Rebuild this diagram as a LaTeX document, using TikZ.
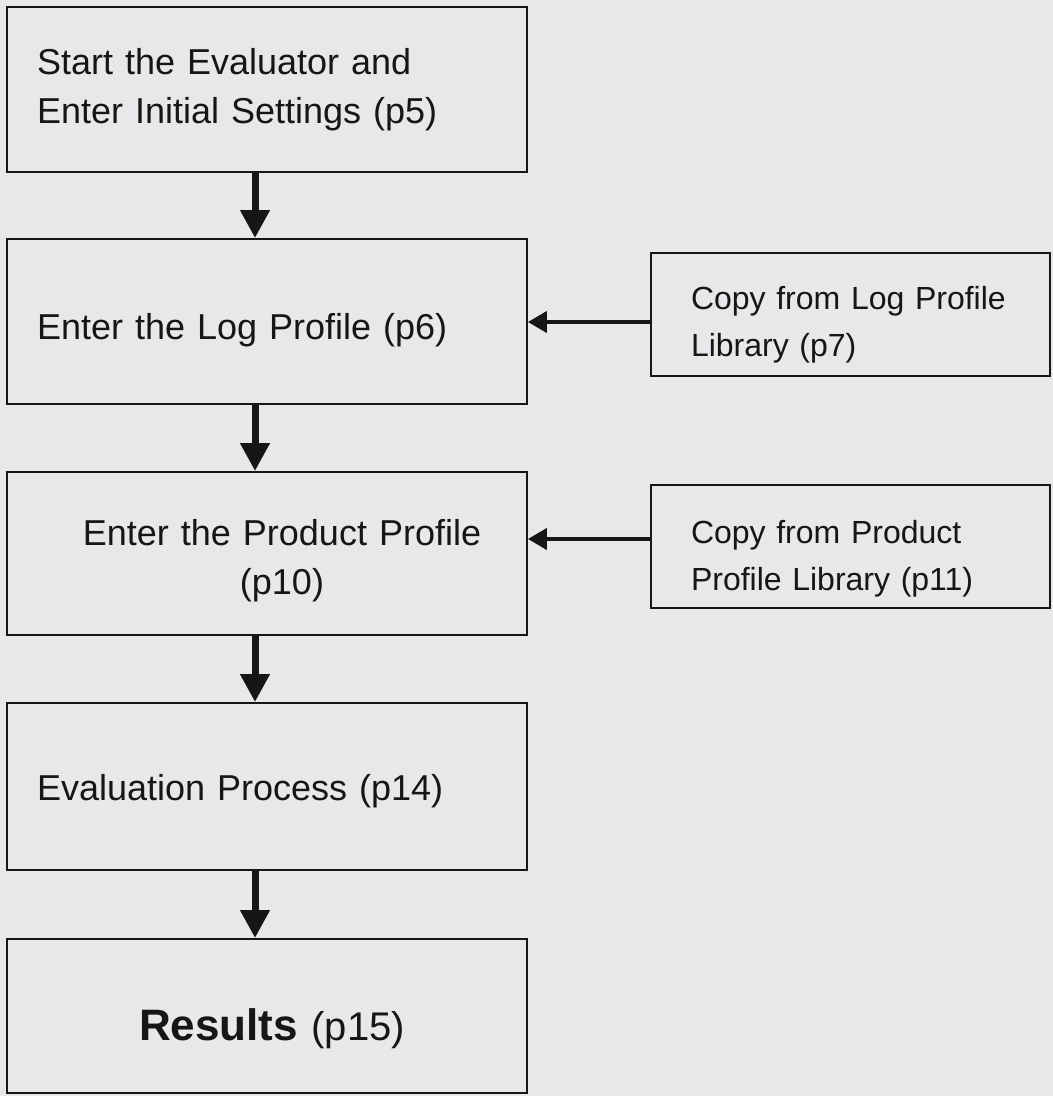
\documentclass[tikz,border=0pt]{standalone}
\usepackage{fontspec}
\setmainfont{Liberation Sans}
\usetikzlibrary{arrows.meta}
\definecolor{scanbg}{RGB}{232,232,234}
\definecolor{inkline}{RGB}{22,22,22}

\begin{document}
\begin{tikzpicture}[x=1pt,y=1pt,
        stepbox/.style={draw=inkline,line width=1.8pt,minimum width=520pt,inner xsep=30pt,inner ysep=0pt,
            text width=460pt,align=left,text=inkline,font=\fontsize{36}{49}\selectfont},
        libbox/.style={draw=inkline,line width=1.8pt,minimum width=399pt,minimum height=123pt,inner xsep=40pt,inner ysep=0pt,
            text width=319pt,align=left,text=inkline,font=\fontsize{32}{47}\selectfont},
        downarrow/.style={draw=inkline,line width=7pt,-{Triangle[length=28pt,width=28pt]}},
        sidearrow/.style={draw=inkline,line width=4pt,-{Triangle[length=19pt,width=21pt]}}]
                \useasboundingbox (0,0) rectangle (1053,-1096);
                \fill[scanbg] (0,0) rectangle (1053,-1096);

                \node[stepbox,minimum height=165pt] (start) at (267,-89.5) {Start the Evaluator and\\Enter Initial Settings (p5)};
                \node[stepbox,minimum height=165pt] (logprof) at (267,-321.5) {\rule{0pt}{43pt}Enter the Log Profile (p6)};
                \node[stepbox,minimum height=163pt,align=center] (prodprof) at (267,-553.5) {\rule{0pt}{40pt}\hspace*{30pt}Enter the Product Profile\\\hspace*{30pt}(p10)};
                \node[stepbox,minimum height=167pt] (evalproc) at (267,-786.5) {\rule{0pt}{36pt}Evaluation Process (p14)};
                \node[stepbox,minimum height=154pt,align=center,font=\fontsize{40}{50}\selectfont] (results) at (267,-1016)
                    {\rule{0pt}{58pt}\hspace*{10pt}{\fontsize{44}{50}\selectfont\bfseries Results} (p15)};

                \node[libbox] (loglib) at (850.5,-314.5) {\rule{0pt}{43pt}Copy from Log Profile\\Library (p7)};
                \node[libbox] (prodlib) at (850.5,-546.5) {\rule{0pt}{48pt}Copy from Product\\Profile Library (p11)};

                \draw[downarrow] ([xshift=-12pt]start.south) -- ([xshift=-12pt]logprof.north);
                \draw[downarrow] ([xshift=-12pt]logprof.south) -- ([xshift=-12pt]prodprof.north);
                \draw[downarrow] ([xshift=-12pt]prodprof.south) -- ([xshift=-12pt]evalproc.north);
                \draw[downarrow] ([xshift=-12pt]evalproc.south) -- ([xshift=-12pt]results.north);

                \coordinate (login) at ([yshift=-7.5pt]loglib.west);
                \coordinate (prodin) at ([yshift=7.5pt]prodlib.west);
                \draw[sidearrow] (login) -- (login -| logprof.east);
                \draw[sidearrow] (prodin) -- (prodin -| prodprof.east);
            \end{tikzpicture}
\end{document}
